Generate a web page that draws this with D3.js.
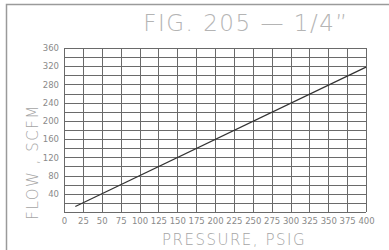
<!DOCTYPE html>
<html>
<head>
<meta charset="utf-8">
<script src="https://cdn.jsdelivr.net/npm/d3@7"></script>
<style>
  body { margin: 0; background: #fff; }
  text { font-family: "DejaVu Sans", sans-serif; }
</style>
</head>
<body>
<div id="chart"></div>
<script>
// data
const pressure = [15, 400];
const flow = [12, 318];
const xTicks = [0, 25, 50, 75, 100, 125, 150, 175, 200, 225, 250, 275, 300, 325, 350, 375, 400];
const yTicks = [40, 80, 120, 160, 200, 240, 280, 320, 360];
const yGrid = d3.range(20, 361, 20);

const W = 389, H = 250;
const margin = { top: 48, right: 23, bottom: 38, left: 64 };
const width = W - margin.left - margin.right;
const height = H - margin.top - margin.bottom;

const svg = d3.select("#chart").append("svg")
  .attr("width", W)
  .attr("height", H);

// sheet border (left + top)
svg.append("path")
  .attr("d", `M6.5,${H}V4.5H${W}`)
  .attr("fill", "none")
  .attr("stroke", "#9a9a9a")
  .attr("stroke-width", 1.5);

// title
svg.append("text")
  .attr("x", 246)
  .attr("y", 31)
  .attr("text-anchor", "middle")
  .attr("fill", "#b4b4b4")
  .attr("font-size", 23)
  .attr("font-weight", 200)
  .attr("letter-spacing", 1.5)
  .text("FIG. 205 \u2014 1/4\u201D");

const g = svg.append("g")
  .attr("transform", `translate(${margin.left},${margin.top})`);

const x = d3.scaleLinear().domain([0, 400]).range([0, width]);
const y = d3.scaleLinear().domain([0, 360]).range([height, 0]);

// grid
g.selectAll(".hgrid")
  .data(yGrid)
  .enter().append("line")
  .attr("x1", 0).attr("x2", width)
  .attr("y1", d => Math.round(y(d)) + 0.5)
  .attr("y2", d => Math.round(y(d)) + 0.5)
  .attr("stroke", "#6a6a6a");

g.selectAll(".vgrid")
  .data(xTicks)
  .enter().append("line")
  .attr("y1", 0).attr("y2", height)
  .attr("x1", d => Math.round(x(d)) + 0.5)
  .attr("x2", d => Math.round(x(d)) + 0.5)
  .attr("stroke", "#6a6a6a");

// bottom line
g.append("line")
  .attr("x1", 0).attr("x2", width)
  .attr("y1", Math.round(y(0)) + 0.5)
  .attr("y2", Math.round(y(0)) + 0.5)
  .attr("stroke", "#6a6a6a");

// axes (labels only)
const xAxis = g.append("g")
  .attr("transform", `translate(0,${height})`)
  .call(d3.axisBottom(x).tickValues(xTicks).tickSize(0).tickPadding(6));
const yAxis = g.append("g")
  .call(d3.axisLeft(y).tickValues(yTicks).tickSize(0).tickPadding(5));
[xAxis, yAxis].forEach(a => {
  a.select(".domain").remove();
  a.selectAll("text")
    .attr("fill", "#8a8a8a")
    .style("font-family", "DejaVu Sans, sans-serif")
    .attr("font-size", 8.5);
});

// flow curve
const pts = pressure.map((p, i) => [p, flow[i]]);
g.append("path")
  .datum(pts)
  .attr("fill", "none")
  .attr("stroke", "#333")
  .attr("stroke-width", 1.2)
  .attr("d", d3.line().x(d => x(d[0])).y(d => y(d[1])));

// axis titles
svg.append("text")
  .attr("x", 234)
  .attr("y", 245)
  .attr("text-anchor", "middle")
  .attr("fill", "#a4a4a4")
  .attr("font-size", 15)
  .attr("font-weight", 200)
  .attr("letter-spacing", 1.5)
  .text("PRESSURE,  PSIG");

svg.append("text")
  .attr("transform", "translate(38,162) rotate(-90)")
  .attr("text-anchor", "middle")
  .attr("fill", "#a4a4a4")
  .attr("font-size", 15)
  .attr("font-weight", 200)
  .attr("letter-spacing", 1.5)
  .text("FLOW  ,  SCFM");
</script>
</body>
</html>
